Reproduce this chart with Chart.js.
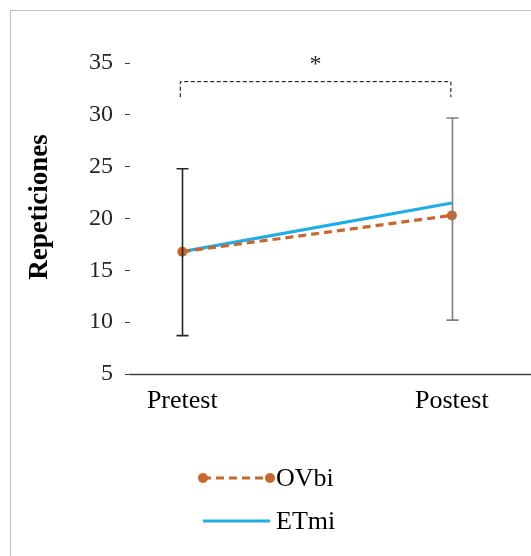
<!DOCTYPE html>
<html>
<head>
<meta charset="utf-8">
<script src="https://cdn.jsdelivr.net/npm/chart.js@4/dist/chart.umd.min.js"></script>
<style>
  html, body { margin: 0; padding: 0; background: #fff; }
  canvas { display: block; }
</style>
</head>
<body>
<canvas id="chart" width="531" height="556"></canvas>
<script>
// Repeticiones pretest / postest – OVbi vs ETmi

const categories = ["Pretest", "Postest"];
const ovbiValues = [16.8, 20.3];
const etmiValues = [16.8, 21.5];
const errLow = [8.7, 10.2];   // extremos inferiores de las barras de error
const errHigh = [24.8, 29.7]; // extremos superiores
const errColors = ["#262626", "#7f7f7f"];
const yTicks = [5, 10, 15, 20, 25, 30, 35];
const bracketY = 33.2;      // línea de significancia
const bracketFootY = 31.7;  // extremo de las patas
const bracketLabel = "*";
const yTitle = "Repeticiones";

const SERIF = "'Liberation Serif', 'DejaVu Serif', serif";

const toPoints = (vals) => vals.map((v, i) => ({ x: i, y: v }));

// marco gris, título del eje, barras de error, corchete y leyenda
const extras = {
  id: "extras",
  beforeDraw(chart) {
    const { ctx } = chart;
    ctx.save();
    ctx.strokeStyle = "#bfbfbf";
    ctx.lineWidth = 1;
    ctx.beginPath();
    ctx.moveTo(10.5, 556);
    ctx.lineTo(10.5, 10.5);
    ctx.lineTo(531, 10.5);
    ctx.stroke();

    // título del eje Y (girado)
    ctx.translate(40, 207);
    ctx.rotate(-Math.PI / 2);
    ctx.fillStyle = "#000";
    ctx.font = "bold 27px " + SERIF;
    ctx.textAlign = "center";
    ctx.textBaseline = "middle";
    ctx.fillText(yTitle, 0, 0);
    ctx.restore();
  },
  afterDatasetsDraw(chart) {
    const { ctx, chartArea } = chart;
    const xs = chart.scales.x, ys = chart.scales.y;
    ctx.save();

    // línea del eje X hasta el borde derecho
    const ay = Math.round(ys.getPixelForValue(ys.min)) + 0.5;
    ctx.strokeStyle = "#404040";
    ctx.lineWidth = 1.5;
    ctx.beginPath();
    ctx.moveTo(chartArea.left, ay);
    ctx.lineTo(chart.width, ay);
    ctx.stroke();

    // barras de error
    categories.forEach((_, i) => {
      const x = Math.round(xs.getPixelForValue(i)) + 0.5;
      const y1 = ys.getPixelForValue(errLow[i]);
      const y2 = ys.getPixelForValue(errHigh[i]);
      ctx.strokeStyle = errColors[i];
      ctx.lineWidth = 1.6;
      ctx.beginPath();
      ctx.moveTo(x, y1);
      ctx.lineTo(x, y2);
      ctx.moveTo(x - 6, y1);
      ctx.lineTo(x + 6, y1);
      ctx.moveTo(x - 6, y2);
      ctx.lineTo(x + 6, y2);
      ctx.stroke();
    });

    // corchete de significancia
    const bx1 = xs.getPixelForValue(0) - 2;
    const bx2 = xs.getPixelForValue(1) - 1;
    const by = ys.getPixelForValue(bracketY);
    const bf = ys.getPixelForValue(bracketFootY);
    ctx.strokeStyle = "#000";
    ctx.lineWidth = 1;
    ctx.setLineDash([4, 2.5]);
    ctx.beginPath();
    ctx.moveTo(bx1, bf);
    ctx.lineTo(bx1, by);
    ctx.lineTo(bx2, by);
    ctx.lineTo(bx2, bf);
    ctx.stroke();
    ctx.setLineDash([]);
    ctx.fillStyle = "#262626";
    ctx.font = "24px " + SERIF;
    ctx.textAlign = "center";
    ctx.textBaseline = "middle";
    ctx.fillText(bracketLabel, (bx1 + bx2) / 2, by - 17);

    // leyenda
    const rows = [478, 521];
    chart.data.datasets.forEach((ds, k) => {
      const y = rows[k];
      const lx1 = 203, lx2 = 270;
      ctx.strokeStyle = ds.borderColor;
      ctx.lineWidth = ds.borderWidth;
      ctx.setLineDash(ds.borderDash || []);
      ctx.beginPath();
      ctx.moveTo(lx1, y);
      ctx.lineTo(lx2, y);
      ctx.stroke();
      ctx.setLineDash([]);
      if (ds.pointRadius > 0) {
        ctx.fillStyle = ds.borderColor;
        [lx1, lx2].forEach((px) => {
          ctx.beginPath();
          ctx.arc(px, y, ds.pointRadius, 0, Math.PI * 2);
          ctx.fill();
        });
      }
      ctx.fillStyle = "#000";
      ctx.font = "26px " + SERIF;
      ctx.textAlign = "left";
      ctx.textBaseline = "middle";
      ctx.fillText(ds.label, 276, y + 1);
    });
    ctx.restore();
  },
};

new Chart(document.getElementById("chart"), {
  type: "line",
  data: {
    datasets: [
      {
        label: "OVbi",
        data: toPoints(ovbiValues),
        borderColor: "#c8662c",
        backgroundColor: "#c8662c",
        borderWidth: 3.2,
        borderDash: [8, 5],
        pointRadius: 5,
        pointHoverRadius: 5,
        pointBorderWidth: 0,
        tension: 0,
      },
      {
        label: "ETmi",
        data: toPoints(etmiValues),
        borderColor: "#1eaee6",
        backgroundColor: "#1eaee6",
        borderWidth: 3.2,
        pointRadius: 0,
        tension: 0,
      },
    ],
  },
  options: {
    responsive: false,
    animation: false,
    layout: { padding: { top: 63, right: 0, bottom: 140, left: 0 } },
    plugins: {
      legend: { display: false },
      tooltip: { enabled: false },
    },
    scales: {
      x: {
        type: "linear",
        min: -0.194,
        max: 1.275,
        afterBuildTicks: (s) => { s.ticks = categories.map((_, i) => ({ value: i })); },
        afterFit: (s) => { s.height = 42; },
        grid: { display: false },
        border: { display: false },
        ticks: {
          callback: (v) => categories[v] ?? "",
          color: "#000",
          font: { family: SERIF, size: 26 },
          padding: 4,
          maxRotation: 0,
        },
      },
      y: {
        min: 5,
        max: 35,
        afterBuildTicks: (s) => { s.ticks = yTicks.map((v) => ({ value: v })); },
        afterFit: (s) => { s.width = 130; },
        grid: {
          drawOnChartArea: false,
          drawTicks: true,
          tickLength: 5,
          color: "#404040",
        },
        border: { display: false },
        ticks: {
          color: "#262626",
          font: { family: SERIF, size: 24 },
          padding: 12,
        },
      },
    },
  },
  plugins: [extras],
});
</script>
</body>
</html>
